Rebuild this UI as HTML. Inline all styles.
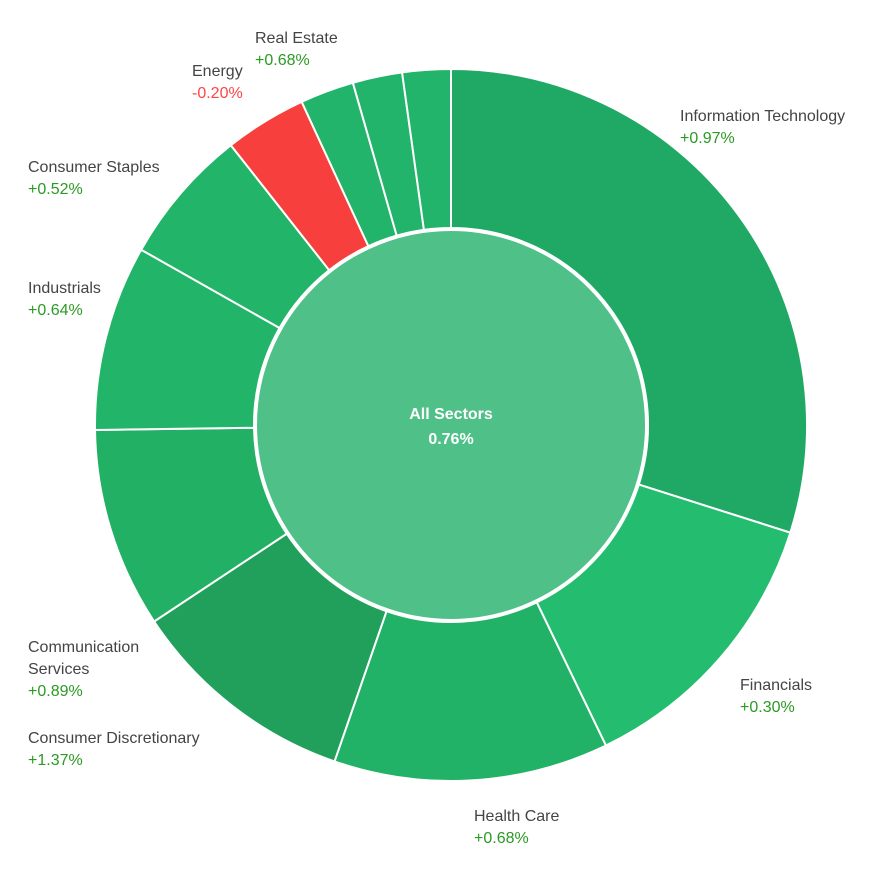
<!DOCTYPE html>
<html><head><meta charset="utf-8"><style>
html,body{margin:0;padding:0;background:#fff}
svg{display:block}
text{font-family:"Liberation Sans",sans-serif;font-size:16px}
</style></head><body>
<svg id="chart" width="889" height="877" viewBox="0 0 889 877"></svg>
<script>
const sectors=["Information Technology","Financials","Health Care","Consumer Discretionary","Communication Services","Industrials","Consumer Staples","Energy","Real Estate","Materials","Utilities"];
const weights=[107.6,46.6,44.9,37.4,32.7,30.3,22.3,13.4,8.8,8.1,7.9];
const changes=["+0.97%","+0.30%","+0.68%","+1.37%","+0.89%","+0.64%","+0.52%","-0.20%","+0.68%","",""];
const colors=["#20a965","#24bd70","#22b267","#20a05a","#21b064","#22b468","#22b56a","#f7403d","#22b46a","#22b46a","#22b46a"];
const showLabel=[true,true,true,true,true,true,true,true,true,false,false];
const labelPos=[[680,121],[740,690],[474,821],[28,743],[28,652],[28,293],[28,172],[192,76],[255,43],null,null];
const centerLabel="All Sectors", centerValue="0.76%";
const svg=document.getElementById('chart');
const NS="http://www.w3.org/2000/svg";
const cx=451,cy=425,R=356,r0=197;
const total=weights.reduce((a,b)=>a+b,0);
function pt(a,r){return [cx+r*Math.sin(a),cy-r*Math.cos(a)];}
let acc=0;
weights.forEach((w,i)=>{
  const a0=acc/total*2*Math.PI, a1=(acc+w)/total*2*Math.PI; acc+=w;
  const big=(a1-a0)>Math.PI?1:0;
  const p0=pt(a0,R),p1=pt(a1,R),q1=pt(a1,r0),q0=pt(a0,r0);
  const p=document.createElementNS(NS,'path');
  p.setAttribute('d',`M${p0}A${R},${R} 0 ${big} 1 ${p1}L${q1}A${r0},${r0} 0 ${big} 0 ${q0}Z`);
  p.setAttribute('fill',colors[i]);p.setAttribute('stroke','#fff');p.setAttribute('stroke-width','2');
  
  
  svg.appendChild(p);
});
const c=document.createElementNS(NS,'circle');
c.setAttribute('cx',cx);c.setAttribute('cy',cy);c.setAttribute('r',r0-2);
c.setAttribute('fill','#50c089');c.setAttribute('stroke','#fff');c.setAttribute('stroke-width','2');


svg.appendChild(c);
function txt(x,y,s,fill,extra){const t=document.createElementNS(NS,'text');t.setAttribute('x',x);t.setAttribute('y',y);t.setAttribute('fill',fill);if(extra)for(const k in extra)t.setAttribute(k,extra[k]);t.textContent=s;svg.appendChild(t);return t;}
let t=txt(cx,419,centerLabel,'#fff',{'text-anchor':'middle','font-weight':'bold'});


t=txt(cx,444,centerValue,'#fff',{'text-anchor':'middle','font-weight':'bold'});


sectors.forEach((s,i)=>{
  if(!showLabel[i])return;
  const [x,y]=labelPos[i];
  let lines=s==="Communication Services"?["Communication","Services"]:[s];
  lines.forEach((l,j)=>{const e=txt(x,y+j*22,l,'#444');
    
    });
  const v=txt(x,y+lines.length*22,changes[i],changes[i][0]==='-'?'#f44':'#2a9a22');
  
  
});
</script>
</body></html>
